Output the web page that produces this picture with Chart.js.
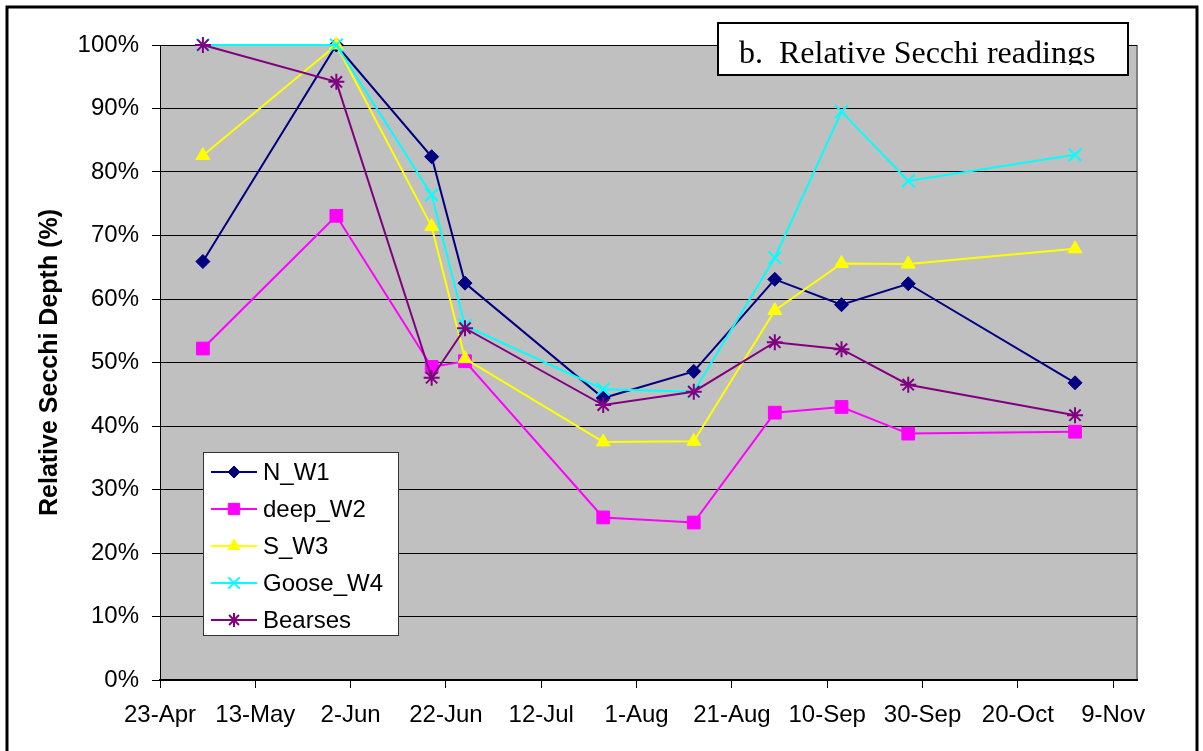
<!DOCTYPE html>
<html>
<head>
<meta charset="utf-8">
<script src="https://cdn.jsdelivr.net/npm/chart.js@4.4.1/dist/chart.umd.min.js"></script>
<style>
  html, body { margin: 0; padding: 0; background: #fff; }
</style>
</head>
<body>
<canvas id="secchi-chart" width="1203" height="751"></canvas>
<script>
// days counted from 23-Apr
var tickDays = [0, 20, 40, 60, 80, 100, 120, 140, 160, 180, 200];
var tickLabels = ["23-Apr", "13-May", "2-Jun", "22-Jun", "12-Jul", "1-Aug", "21-Aug", "10-Sep", "30-Sep", "20-Oct", "9-Nov"];
var sampleDays = [9, 37, 57, 64, 93, 112, 129, 143, 157, 192];

var seriesNames = ["N_W1", "deep_W2", "S_W3", "Goose_W4", "Bearses"];
var nW1 = [65.9, 100, 82.4, 62.5, 44.4, 48.6, 63.1, 59.1, 62.4, 46.8];
var deepW2 = [52.2, 73.1, 49.3, 50.2, 25.6, 24.8, 42.1, 43.0, 38.8, 39.1];
var sW3 = [82.6, 100, 71.4, 50.6, 37.5, 37.6, 58.2, 65.6, 65.5, 67.9];
var gooseW4 = [100, 100, 76.4, 55.8, 45.8, 45.4, 66.5, 89.5, 78.6, 82.7];
var bearses = [100, 94.2, 47.6, 55.4, 43.3, 45.4, 53.2, 52.1, 46.5, 41.7];

var FONT = "'Liberation Sans', Arial, sans-serif";

function points(values) {
  return values.map(function (v, i) { return { x: sampleDays[i], y: v }; });
}

function series(name, values, color, style, radius, filled, order) {
  return {
    label: name,
    data: points(values),
    borderColor: color,
    backgroundColor: color,
    borderWidth: 2,
    pointStyle: style,
    pointRadius: radius,
    pointHoverRadius: radius,
    pointBackgroundColor: color,
    pointBorderColor: color,
    pointBorderWidth: filled ? 1 : 2,
    tension: 0,
    clip: false,
    order: order
  };
}

var data = {
  datasets: [
    series(seriesNames[0], nW1, "#000080", "rectRot", 7, true, 5),
    series(seriesNames[1], deepW2, "#FF00FF", "rect", 9, true, 4),
    series(seriesNames[2], sW3, "#FFFF00", "triangle", 8, true, 3),
    series(seriesNames[3], gooseW4, "#00FFFF", "crossRot", 9, false, 2),
    series(seriesNames[4], bearses, "#800080", "star", 8, false, 1)
  ]
};

// frame, grey plot area, legend box and the clipped title box
var decor = {
  id: "decor",
  beforeDraw: function (chart) {
    var c = chart.ctx, a = chart.chartArea;
    c.save();
    c.fillStyle = "#fff";
    c.fillRect(0, 0, chart.width, chart.height);
    c.fillStyle = "#C0C0C0";
    c.fillRect(a.left, a.top, a.right - a.left, a.bottom - a.top);
    c.strokeStyle = "#808080";
    c.lineWidth = 2;
    c.beginPath();
    c.moveTo(a.right, a.top);
    c.lineTo(a.right, a.bottom);
    c.stroke();
    c.restore();
  },
  afterDraw: function (chart) {
    var c = chart.ctx;
    c.save();
    // outer frame
    c.strokeStyle = "#000";
    c.lineWidth = 3;
    c.strokeRect(7, 7, 1190, 770);

    // legend
    c.fillStyle = "#fff";
    c.fillRect(203, 452, 195, 183);
    c.strokeStyle = "#333";
    c.lineWidth = 1;
    c.strokeRect(203.5, 452.5, 195, 183);
    chart.data.datasets.forEach(function (ds, i) {
      var y = 472 + i * 37;
      c.strokeStyle = ds.borderColor;
      c.lineWidth = 2;
      c.beginPath();
      c.moveTo(211, y);
      c.lineTo(257, y);
      c.stroke();
      c.fillStyle = ds.borderColor;
      c.lineWidth = ds.pointBorderWidth;
      Chart.helpers.drawPoint(c, {
        pointStyle: ds.pointStyle,
        rotation: 0,
        radius: ds.pointRadius - 1,
        borderWidth: ds.pointBorderWidth
      }, 234, y);
      c.fillStyle = "#000";
      c.font = "24px " + FONT;
      c.textBaseline = "middle";
      c.textAlign = "left";
      c.fillText(ds.label, 263, y + 1);
    });

    // title box, text cut at the bottom like the original
    c.fillStyle = "#fff";
    c.fillRect(717, 22, 411, 53);
    c.strokeStyle = "#000";
    c.lineWidth = 2;
    c.strokeRect(718, 23, 410, 52);
    c.beginPath();
    c.rect(719, 24, 408, 41);
    c.clip();
    c.fillStyle = "#000";
    c.font = "32px 'Liberation Serif', 'Times New Roman', serif";
    c.textBaseline = "alphabetic";
    c.textAlign = "left";
    c.fillText("b.  Relative Secchi readings", 739, 63);
    c.restore();
  }
};

var ctx = document.getElementById("secchi-chart").getContext("2d");
var mySecchiChart = new Chart(ctx, {
  type: "line",
  data: data,
  plugins: [decor],
  options: {
    responsive: false,
    animation: false,
    events: [],
    layout: { padding: { top: 45, right: 66, bottom: 0, left: 0 } },
    plugins: {
      legend: { display: false },
      tooltip: { enabled: false }
    },
    scales: {
      x: {
        type: "linear",
        min: 0,
        max: 205,
        afterFit: function (scale) { scale.height = 71; },
        afterBuildTicks: function (scale) {
          scale.ticks = tickDays.map(function (d) { return { value: d }; });
        },
        ticks: {
          color: "#000",
          font: { family: FONT, size: 24 },
          padding: 13,
          maxRotation: 0,
          autoSkip: false,
          callback: function (value, index) { return tickLabels[index]; }
        },
        grid: {
          drawOnChartArea: false,
          drawTicks: true,
          tickLength: 8,
          tickColor: "#000"
        },
        border: { color: "#000", width: 2 }
      },
      y: {
        min: 0,
        max: 100,
        afterFit: function (scale) { scale.width = 160; },
        ticks: {
          stepSize: 10,
          color: "#000",
          font: { family: FONT, size: 24 },
          padding: 13,
          callback: function (value) { return value + "%"; }
        },
        grid: {
          color: "#000",
          lineWidth: 1,
          tickLength: 8,
          tickColor: "#000"
        },
        border: { color: "#000", width: 1 },
        title: {
          display: true,
          text: "Relative Secchi Depth (%)",
          color: "#000",
          font: { family: FONT, size: 25, weight: "bold" },
          padding: { top: 35, bottom: 0 }
        }
      }
    }
  }
});
</script>
</body>
</html>
